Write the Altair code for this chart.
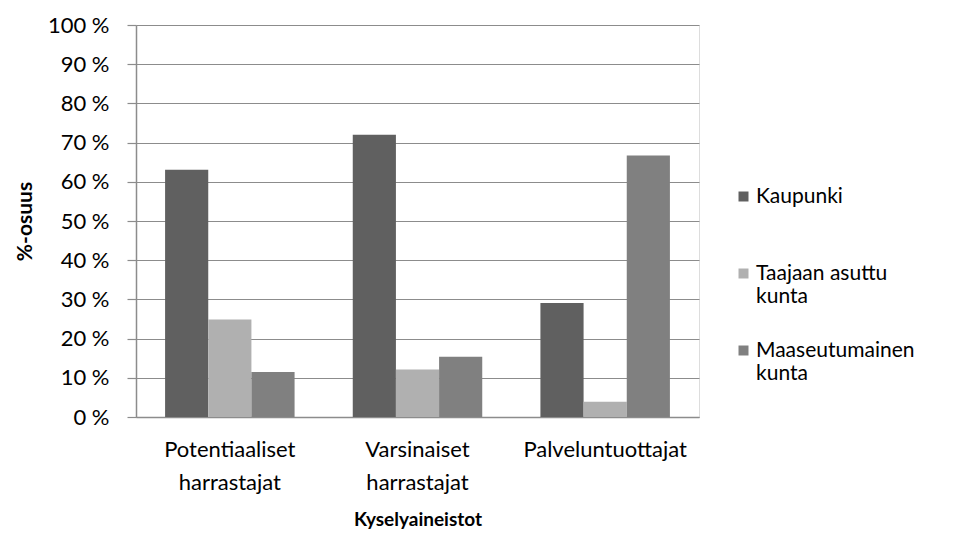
import altair as alt
import pandas as pd

groups = ["Potentiaaliset harrastajat", "Varsinaiset harrastajat", "Palveluntuottajat"]
series = ["Kaupunki", "Taajaan asuttu kunta", "Maaseutumainen kunta"]
kaupunki = [63.1, 72.0, 29.1]
taajaan = [24.9, 12.1, 3.9]
maaseutu = [11.5, 15.4, 66.7]
colors = ["#606060", "#b0b0b0", "#808080"]
y_ticks = [0, 10, 20, 30, 40, 50, 60, 70, 80, 90, 100]

rows = []
for s, vals in zip(series, [kaupunki, taajaan, maaseutu]):
    for g, v in zip(groups, vals):
        rows.append({"group": g, "series": s, "value": v})
df = pd.DataFrame(rows)

FONT = "Lato"
GRID = "#8c8c8c"

legend_expr = (
    "datum.label == 'Taajaan asuttu kunta' ? ['Taajaan asuttu', '\u00a0kunta'] : "
    "datum.label == 'Maaseutumainen kunta' ? ['Maaseutumainen', 'kunta'] : "
    "[datum.label, '\u00a0']"
)

chart = alt.Chart(df).mark_bar().encode(
    x=alt.X("group:N", sort=groups,
            scale=alt.Scale(paddingInner=0.31, paddingOuter=0.155),
            axis=alt.Axis(title="Kyselyaineistot", labelAngle=0, ticks=False,
                          labelExpr="split(datum.label, ' ')",
                          labelFontSize=22, labelLineHeight=33, labelPadding=22,
                          labelColor="#000000", labelFont=FONT,
                          titleFont=FONT, titleFontSize=19, titleFontWeight="bold",
                          titleColor="#000000", titlePadding=17,
                          domainColor=GRID, domainWidth=1.5)),
    xOffset=alt.XOffset("series:N", sort=series,
                        scale=alt.Scale(paddingInner=0, paddingOuter=0)),
    y=alt.Y("value:Q", scale=alt.Scale(domain=[0, 100], nice=False),
            axis=alt.Axis(values=y_ticks, labelExpr="datum.value + ' %'",
                          title="%-osuus", grid=True, gridColor=GRID, gridWidth=1.2,
                          domainColor=GRID, domainWidth=1.5, tickColor=GRID, tickSize=9,
                          tickWidth=1.2, labelPadding=18, labelFontSize=22,
                          labelColor="#000000", labelFont=FONT,
                          titleFont=FONT, titleFontSize=21, titleFontWeight="bold",
                          titleColor="#000000", titlePadding=12)),
    color=alt.Color("series:N", sort=series,
                    scale=alt.Scale(domain=series, range=colors),
                    legend=alt.Legend(title=None, orient="none", legendX=597, legendY=161,
                                      symbolType="square", symbolSize=100,
                                      symbolStrokeWidth=0, labelFont=FONT,
                                      labelFontSize=21, labelColor="#000000",
                                      labelLimit=300, rowPadding=32, labelOffset=2,
                                      labelExpr=legend_expr)),
).properties(
    width=563, height=392,
    autosize=alt.AutoSizeParams(type="none"),
    padding={"left": 128, "top": 17, "right": 222, "bottom": 113},
).configure_view(stroke=None).configure(background="white")

chart.save("out.html", embed_options={"renderer": "svg", "actions": False})
